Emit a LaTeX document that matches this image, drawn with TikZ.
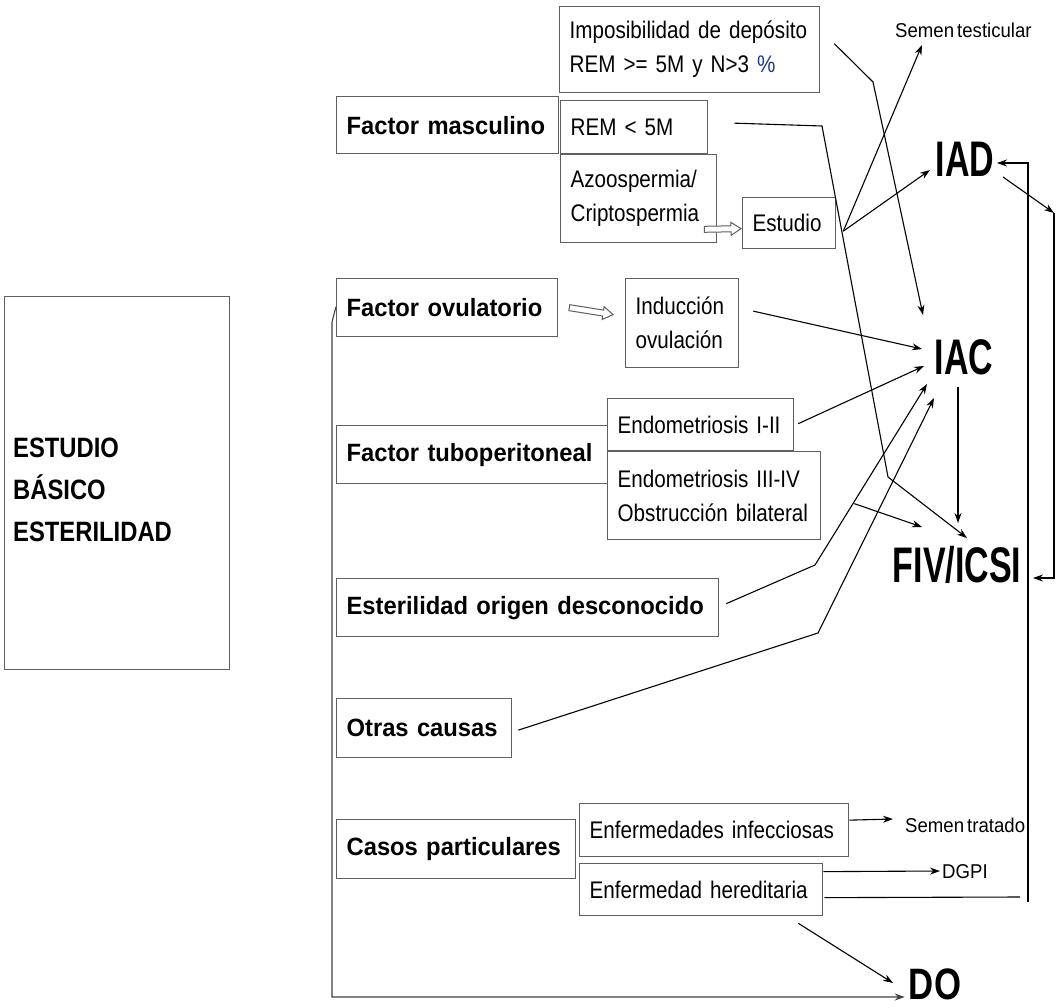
\documentclass[tikz,border=0pt]{standalone}
\usepackage{fontspec}
\setmainfont{Liberation Sans}
\newfontfamily\fReg{Liberation Sans}[FakeStretch=0.86,WordSpace=0.7]
\newfontfamily\fBold{Liberation Sans}[FakeStretch=0.95,WordSpace=0.85]
\newfontfamily\fBig{Liberation Sans}[FakeStretch=0.68]
\newfontfamily\fDO{Liberation Sans}[FakeStretch=0.79]
\newfontfamily\fSmall{Liberation Sans}[FakeStretch=0.93,WordSpace=0.6]
\newfontfamily\fTitle{Liberation Sans}[FakeStretch=0.85]
\usetikzlibrary{arrows.meta,calc}
\definecolor{pctblue}{RGB}{31,56,140}
\definecolor{boxgray}{RGB}{95,95,95}
\newcommand\hollowarr[2]{%
  \path (#1) coordinate (ha) (#2) coordinate (hb);
  \path ($(hb)!10pt!(ha)$) coordinate (hc);
  \draw[hollow] ($(ha)!3pt!90:(hb)$) -- ($(hc)!3pt!90:(hb)$) -- ($(hc)!6.5pt!90:(hb)$) -- (hb)
     -- ($(hc)!6.5pt!-90:(hb)$) -- ($(hc)!3pt!-90:(hb)$) -- ($(ha)!3pt!-90:(hb)$) -- cycle;}
\begin{document}
\begin{tikzpicture}[x=1pt,y=-1pt,
  box/.style={draw=boxgray, line width=1.3pt, anchor=north west, inner xsep=10pt, inner ysep=0pt, align=left},
  bbox/.style={box, font=\fBold\fontsize{25}{30}\selectfont\bfseries},
  rbox/.style={box, font=\fReg\fontsize{24}{34}\selectfont},
  big/.style={inner sep=0pt, font=\fBig\fontsize{50}{50}\selectfont\bfseries},
  small/.style={inner sep=0pt, anchor=west, font=\fSmall\fontsize{20}{22}\selectfont},
  conn/.style={line width=1.1pt, draw=black},
  arr/.style={conn, -{Stealth[length=10pt,width=7pt]}},
  hollow/.style={draw=boxgray, fill=white, line width=1pt, line join=miter},
]
\fill[white] (0,0) rectangle (1057,1008);
\useasboundingbox (0,0) rectangle (1057,1008);

% main box
\node[box, minimum width=225pt, minimum height=373pt] (ebe) at (4,296) {};
\node[anchor=west, align=left, inner sep=0pt,
      font=\fTitle\fontsize{28}{42}\selectfont\bfseries] (ebet) at (13,489.5)
      {ESTUDIO\\BÁSICO\\ESTERILIDAD};

% boxes
\node[bbox, text width=202pt, minimum height=57pt] (fm) at (336,96) {\mbox{Factor masculino}};
\node[rbox, text width=240pt, minimum height=86pt] (imp) at (559,6)
  {\mbox{Imposibilidad de depósito}\\\mbox{REM >= 5M y N>3 \textcolor{pctblue}{\%}}};
\node[rbox, text width=127pt, minimum height=53pt] (rem) at (560,100) {\mbox{REM < 5M}};
\node[rbox, text width=136pt, minimum height=88pt] (azo) at (560,154) {\mbox{Azoospermia/}\\\mbox{Criptospermia}};
\node[rbox, text width=73pt, minimum height=51pt] (est) at (742,197) {\mbox{Estudio}};
\node[bbox, text width=201pt, minimum height=58pt] (fo) at (336,278) {\mbox{Factor ovulatorio}};
\node[rbox, text width=93pt, minimum height=89pt] (ind) at (625,278) {\mbox{Inducción}\\\mbox{ovulación}};
\node[bbox, text width=251pt, minimum height=58pt] (ft) at (336,425) {\mbox{Factor tuboperitoneal}};
\node[rbox, text width=166pt, minimum height=52pt] (e12) at (607,398) {\mbox{Endometriosis I-II}};
\node[rbox, text width=193pt, minimum height=88pt] (e34) at (607,451) {\mbox{Endometriosis III-IV}\\\mbox{Obstrucción bilateral}};
\node[bbox, text width=362pt, minimum height=58pt] (eod) at (336,578) {\mbox{Esterilidad origen desconocido}};
\node[bbox, text width=155pt, minimum height=59pt] (oc) at (336,698) {\mbox{Otras causas}};
\node[bbox, text width=219pt, minimum height=59pt] (cp) at (336,819) {\mbox{Casos particulares}};
\node[rbox, text width=249pt, minimum height=53pt] (ei) at (579,803) {\mbox{Enfermedades infecciosas}};
\node[rbox, text width=223pt, minimum height=52pt] (eh) at (579,863) {\mbox{Enfermedad hereditaria}};

% labels
\node[small] (st) at (895,30) {Semen testicular};
\node[small] (str) at (905,825) {Semen tratado};
\node[small] (dgpi) at (942,872) {DGPI};
\node[big] (iad) at (965,159) {IAD};
\node[big] (iac) at (964,357) {IAC};
\node[big] (fiv) at (957,565) {FIV/ICSI};
\node[inner sep=0pt, font=\fDO\fontsize{44}{44}\selectfont\bfseries] (do) at (935,984) {DO};

% hollow arrows
\hollowarr{$(azo.south east)+(-13,-14)$}{$(est.west)+(-1,5.5)$}
\hollowarr{$(fo.east)+(11,0)$}{$(ind.west)+(-12,-8.5)$}

% connectors
\draw[arr] ($(est.east)+(7,8)$) -- ($(st.west)+(27,15)$);
\draw[arr] ($(est.east)+(7,8)$) -- ($(iad)+(-35,11)$);
\draw[arr] ($(imp.east)+(14,-6)$) -- (873,82) -- ($(iac)+(-41,-42)$);
\draw[arr] ($(rem.east)+(26,-4)$) -- (822,126) -- (888,477) -- ($(fiv)+(10,-27)$);
\draw[arr] ($(ind.east)+(14,-12)$) -- ($(iac)+(-42,-8)$);
\draw[arr] ($(e12.east)+(4,-1)$) -- ($(iac)+(-40,9)$);
\draw[arr] ($(e34.east)+(33,8)$) -- ($(fiv)+(-35,-38)$);
\draw[arr] ($(eod.east)+(7,-4)$) -- (815,565) -- ($(iac)+(-37,27)$);
\draw[arr] ($(oc.east)+(6,2)$) -- (818,633) -- ($(iac)+(-30,41)$);
\draw[arr] ($(iac)+(-6,30)$) -- ($(fiv)+(1,-42)$);
\draw[arr] ($(ei.east)+(0,-10)$) -- ($(str.west)+(-12,-6)$);
\draw[arr] ($(eh.east)+(0,-18)$) -- ($(dgpi.west)+(-2,-1)$);
\draw[arr] ($(eh.south east)+(-25,7)$) -- ($(do)+(-42,-1)$);

% right-hand loops
\draw[conn] ($(eh.east)+(1,8)$) -- (1020,897);
\coordinate (rv) at (1028,902);
\draw[arr] (rv) -- (1028,163) -- ($(iad)+(32,4)$);
\coordinate (rr) at (1054,213);
\draw[arr] ($(iad)+(38,18)$) -- (rr);
\draw[arr] (rr) -- (1054,578) -- ($(fiv)+(76,13)$);

% left trunk to DO
\draw[arr, draw=black!75] ($(fo.west)+(0,-1)$) -- (332,322) -- (332,997) -- ($(do.west)+(-4,13)$);
\end{tikzpicture}
\end{document}
